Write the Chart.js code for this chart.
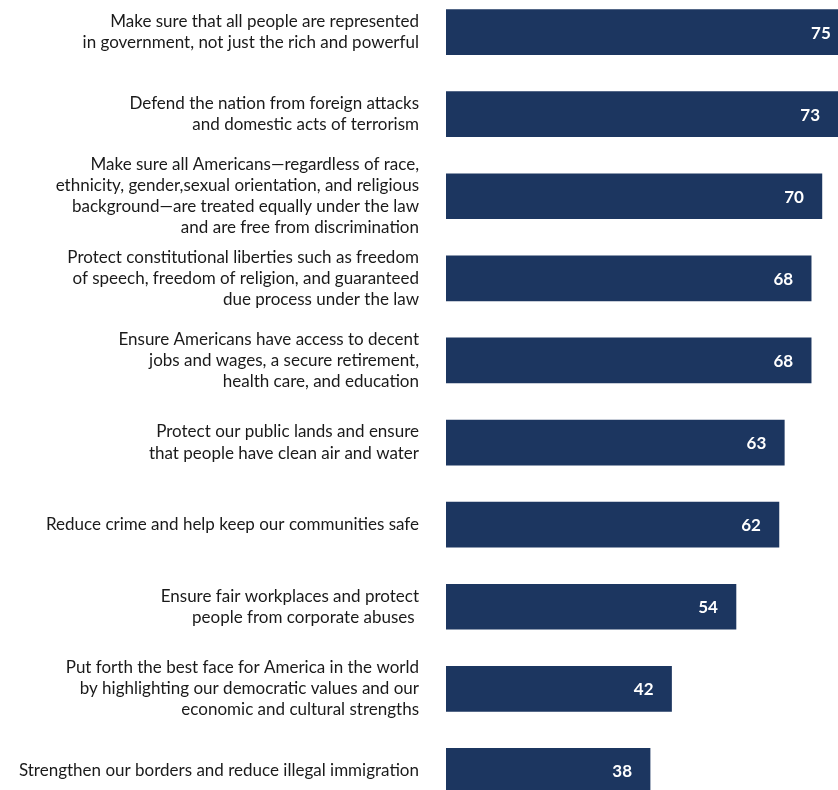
<!DOCTYPE html>
<html>
<head>
	<title>Priorities</title>
	<script src="https://cdn.jsdelivr.net/npm/chart.js@4/dist/chart.umd.min.js"></script>
	<style>
		html, body { margin: 0; padding: 0; overflow: hidden; background: #fff; }
		#wrap { position: absolute; left: 0; top: -9px; width: 838px; height: 821px; }
	</style>
</head>
<body>
	<div id="wrap">
		<canvas id="chart1"></canvas>
	</div>
	<script type="text/javascript">
		var labels = [
			["Make sure that all people are represented", "in government, not just the rich and powerful"],
			["Defend the nation from foreign attacks", "and domestic acts of terrorism"],
			["Make sure all Americans\u2014regardless of race,", "ethnicity, gender,sexual orientation, and religious", "background\u2014are treated equally under the law", "and are free from discrimination"],
			["Protect constitutional liberties such as freedom", "of speech, freedom of religion, and guaranteed", "due process under the law"],
			["Ensure Americans have access to decent", "jobs and wages, a secure retirement,", "health care, and education"],
			["Protect our public lands and ensure", "that people have clean air and water"],
			["Reduce crime and help keep our communities safe"],
			["Ensure fair workplaces and protect", "people from corporate abuses "],
			["Put forth the best face for America in the world", "by highlighting our democratic values and our", "economic and cultural strengths"],
			["Strengthen our borders and reduce illegal immigration"]
		];
		var values = [75, 73, 70, 68, 68, 63, 62, 54, 42, 38];

		var barColor = '#1c3660';
		var fontFamily = 'Lato, "Liberation Sans", sans-serif';

		// white value text near the end of each bar
		var valueLabels = {
			id: 'valueLabels',
			afterDatasetsDraw: function(chart) {
				var ctx = chart.ctx;
				var meta = chart.getDatasetMeta(0);
				ctx.save();
				ctx.fillStyle = '#ffffff';
				ctx.font = 'bold 17px ' + fontFamily;
				ctx.textAlign = 'right';
				ctx.textBaseline = 'middle';
				meta.data.forEach(function(bar, i) {
					ctx.fillText(values[i], bar.x - 18, bar.y + 1);
				});
				ctx.restore();
			}
		};

		var ctx1 = document.getElementById('chart1');
		var chart1 = new Chart(ctx1, {
			type: 'bar',
			data: {
				labels: labels,
				datasets: [{
					data: values,
					backgroundColor: barColor,
					barThickness: 45
				}]
			},
			options: {
				indexAxis: 'y',
				responsive: true,
				maintainAspectRatio: false,
				animation: false,
				layout: { padding: 0 },
				plugins: {
					legend: { display: false },
					tooltip: { enabled: false }
				},
				scales: {
					x: {
						display: false,
						min: 0,
						max: 73
					},
					y: {
						afterFit: function(scale) {
							scale.width = 446;
							scale.paddingTop = 0;
							scale.paddingBottom = 0;
						},
						grid: { display: false, drawTicks: false },
						border: { display: false },
						ticks: {
							autoSkip: false,
							color: '#1a1a1a',
							padding: 27,
							font: { family: fontFamily, size: 17, lineHeight: 1.24 }
						}
					}
				}
			},
			plugins: [valueLabels]
		});
	</script>
</body>
</html>
